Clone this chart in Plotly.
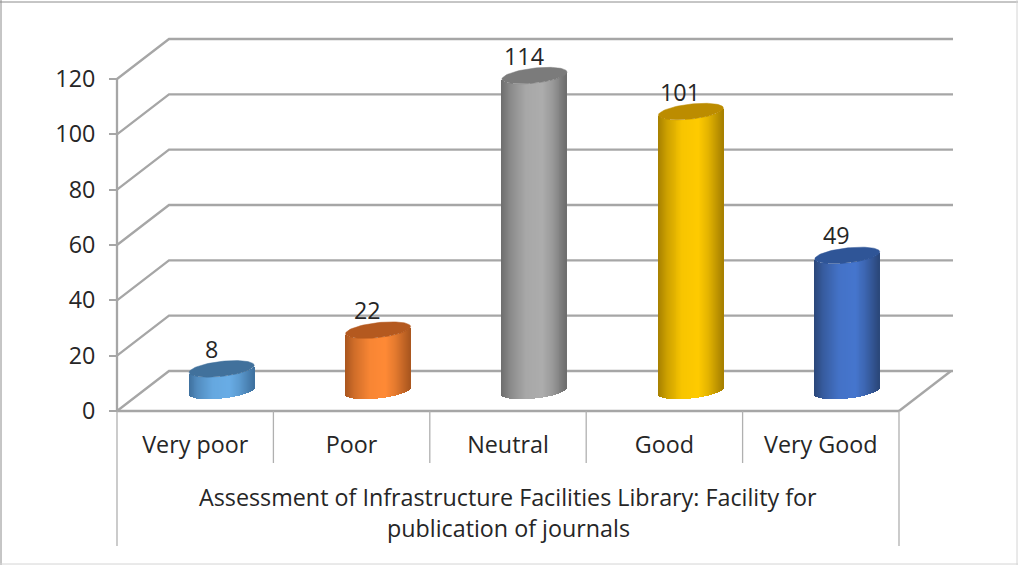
import numpy as np
import plotly.graph_objects as go

categories = ["Very poor", "Poor", "Neutral", "Good", "Very Good"]
values = [8, 22, 114, 101, 49]
group_lines = ["Assessment of Infrastructure Facilities Library: Facility for", "publication of journals"]
y_ticks = [0, 20, 40, 60, 80, 100, 120]

mid_colors = ["#69ADE6", "#FF8A36", "#ADADAD", "#FFCB00", "#4676CE"]
edge_colors = ["#3F719F", "#A9561F", "#6E6E6E", "#A68000", "#2B4779"]
top_colors = ["#41719C", "#B4591F", "#7B7B7B", "#BC8C00", "#2F5597"]

W, H = 1018, 565
L, R, T, B = 117, 119, 79, 154   # box of the front of the 3D chart, px
PW, PH = W - L - R, H - T - B
PX_X = PW / 5          # px per category
PX_Y = PH / 120        # px per value unit
DX = 52 / PX_X         # 3D depth in x units
DY = 40 / PX_Y         # 3D depth in y units
HALF = 32.5 / PX_X     # cylinder half-width
EB = 7.5 / PX_Y        # ellipse half-height
TILT = 3.5 / PX_Y      # ellipse tilt
GRID = "#A6A6A6"
FONT = "Open Sans, sans-serif"
TXT = "#262626"
SIZE = 23.3

# the axes span the whole canvas, so nothing is clipped by the plot area
x_range = [-0.5 - L / PX_X, 4.5 + R / PX_X]
y_range = [-B / PX_Y, 120 + T / PX_Y]


def hex2rgb(h):
    return np.array([int(h[i:i + 2], 16) for i in (1, 3, 5)], float)


def blend(a, b, t):
    c = hex2rgb(a) * (1 - t) + hex2rgb(b) * t
    return "rgb(%d,%d,%d)" % tuple(c)


fig = go.Figure()

# walls, floor and front axis lines
wx, wy = [-0.5, -0.5, None, -0.5, 4.5, None], [0, 120, None, 0, 0, None]
for v in y_ticks:
    wx += [-0.5, -0.5 + DX, 4.5 + DX + 2 / PX_X, None]
    wy += [v, v + DY, v + DY, None]
wx += [4.5, 4.5 + DX, None]
wy += [0, DY, None]
fig.add_trace(go.Scatter(x=wx, y=wy, mode="lines", line=dict(color=GRID, width=2.3),
                         hoverinfo="skip", showlegend=False))

# category dividers below the axis
dx_, dy_ = [], []
for i in range(6):
    low = -135 / PX_Y if i in (0, 5) else -52 / PX_Y
    dx_ += [i - 0.5, i - 0.5, None]
    dy_ += [0, low, None]
fig.add_trace(go.Scatter(x=dx_, y=dy_, mode="lines", line=dict(color="#B0B0B0", width=1.3),
                         hoverinfo="skip", showlegend=False))

# cylinders
N = 66
us = (np.arange(N) + 0.5) / N * 2 - 1
ts = np.linspace(0, 2 * np.pi, 90)
for i, val in enumerate(values):
    cx = i + DX / 2 + 0.5 / PX_X
    shade = np.interp(us, [-1, -0.72, -0.25, 0.25, 0.55, 1], [1, 0.55, 0.08, 0, 0.3, 1])
    fig.add_trace(go.Bar(
        x=cx + us * HALF, y=[val] * N,
        base=DY / 2 - EB * np.sqrt(1 - us ** 2) + TILT * us,
        width=2 * HALF / N * 1.25,
        marker=dict(color=[blend(mid_colors[i], edge_colors[i], s) for s in shade], line=dict(width=0)),
        hoverinfo="skip", showlegend=False,
        xaxis="x2", yaxis="y2"))
    fig.add_trace(go.Scatter(
        x=cx + HALF * np.cos(ts),
        y=val + DY / 2 + EB * np.sin(ts) + TILT * np.cos(ts),
        mode="lines", fill="toself", fillcolor=top_colors[i],
        line=dict(color=top_colors[i], width=0.5),
        hoverinfo="skip", showlegend=False,
        xaxis="x2", yaxis="y2"))

ann = []
for i, val in enumerate(values):
    ann.append(dict(x=i + DX / 2 - 10 / PX_X, y=val, xref="x", yref="y", text=str(val), showarrow=False,
                    yshift=40, font=dict(family=FONT, size=SIZE, color=TXT)))
for line, shift in zip(group_lines, (-86, -117)):
    ann.append(dict(x=2, y=0, xref="x", yref="y", text=line, showarrow=False,
                    yshift=shift, font=dict(family=FONT, size=SIZE, color=TXT)))

frame = [
    (0, 2, W, 2, "#8C8C8C"),
    (1, 0, 1, H, "#8C8C8C"),
    (1017, 0, 1017, H, "#D4D4D4"),
    (0, 564, W, 564, "#D4D4D4"),
]
shapes = [dict(type="line", xref="paper", yref="paper",
               x0=a / W, x1=c / W, y0=1 - b / H, y1=1 - d / H,
               line=dict(color=col, width=1), layer="above") for a, b, c, d, col in frame]

fig.update_layout(
    width=W, height=H, autosize=False,
    margin=dict(l=0, r=0, t=0, b=0, pad=0),
    paper_bgcolor="white", plot_bgcolor="rgba(0,0,0,0)",
    barmode="overlay", bargap=0, showlegend=False,
    annotations=ann, shapes=shapes,
    xaxis=dict(range=x_range, domain=[0, 1], anchor="free", position=B / H,
               tickmode="array", tickvals=list(range(5)), ticktext=categories,
               showgrid=False, zeroline=False, showline=False,
               ticks="", ticklabelstandoff=18, tickfont=dict(family=FONT, size=SIZE, color=TXT)),
    yaxis=dict(range=y_range, domain=[0, 1], anchor="free", position=L / W,
               tickmode="array", tickvals=y_ticks,
               showgrid=False, zeroline=False, showline=False,
               ticks="outside", ticklen=8, tickcolor=GRID, tickwidth=1.5, ticklabelstandoff=9,
               tickfont=dict(family=FONT, size=SIZE, color=TXT)),
    xaxis2=dict(range=x_range, domain=[0, 1], anchor="y2", visible=False),
    yaxis2=dict(range=y_range, domain=[0, 1], anchor="x2", visible=False),
)

fig.write_html("out.html", config=dict(displayModeBar=False),
               post_script="document.body.style.margin='0';document.body.style.overflow='hidden';")
